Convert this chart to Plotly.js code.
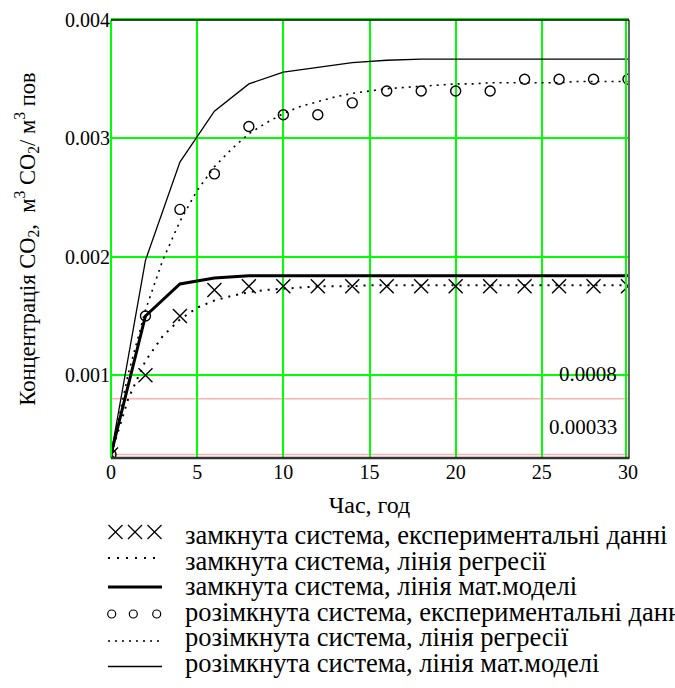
<!DOCTYPE html>
<html><head><meta charset="utf-8">
<script src="https://cdn.plot.ly/plotly-3.0.1.min.js"></script>
<style>html,body{margin:0;padding:0;background:#fff}#chart{width:675px;height:688px}</style>
</head><body><div id="chart"></div>
<script>
// ---- data ----
const hours = [0,2,4,6,8,10,12,14,16,18,20,22,24,26,28,30];
const closedExp   = [0.00033,0.0010,0.0015,0.00172,0.00175,0.00175,0.00175,0.00175,0.00175,0.00175,0.00175,0.00175,0.00175,0.00175,0.00175,0.00175];
const closedModel = [0.00033,0.0015,0.00177,0.00182,0.00184,0.00184,0.00184,0.00184,0.00184,0.00184,0.00184,0.00184,0.00184,0.00184,0.00184,0.00184];
const openExp     = [0.00033,0.0015,0.0024,0.0027,0.0031,0.0032,0.0032,0.0033,0.0034,0.0034,0.0034,0.0034,0.0035,0.0035,0.0035,0.0035];
const openModel   = [0.00033,0.00197,0.0028,0.00323,0.00346,0.00356,0.0036,0.00364,0.00366,0.00367,0.00367,0.00367,0.00367,0.00367,0.00367,0.00367];
const regHours = [0,1,2,3,4,5,6,7,8,9,10,11,12,13,14,15,16,17,18,19,20,21,22,23,24,25,26,27,28,29,30];
const closedReg = [0.00033,0.00080,0.00112,0.00133,0.00147,0.00157,0.00163,0.00167,0.00170,0.00172,0.00173,0.00174,0.00175,0.00175,0.00175,0.00176,0.00176,0.00176,0.00176,0.00176,0.00176,0.00176,0.00176,0.00176,0.00176,0.00176,0.00176,0.00176,0.00176,0.00176,0.00176];
const openReg = [0.00033,0.00101,0.00155,0.00197,0.00230,0.00256,0.00276,0.00291,0.00304,0.00313,0.00321,0.00327,0.00331,0.00335,0.00338,0.00340,0.00342,0.00343,0.00344,0.00345,0.00346,0.00346,0.00347,0.00347,0.00347,0.00347,0.00347,0.00348,0.00348,0.00348,0.00348];
const refLevels = [0.0008,0.00033];
const refLabels = ['0.0008','0.00033'];
const xTicks = [0,5,10,15,20,25,30];
const yTicks = [0.001,0.002,0.003,0.004];
const yTickText = ['0.001','0.002','0.003','0.004'];
const xTitle = 'Час, год';
const yTitle = 'Концентрація CO<sub>2</sub>,  м<sup>3</sup> CO<sub>2</sub>/ м<sup>3</sup> пов';
const legendLabels = [
  'замкнута система, експериментальні данні',
  'замкнута система, лінія регресії',
  'замкнута система, лінія мат.моделі',
  'розімкнута система, експериментальні данні',
  'розімкнута система, лінія регресії',
  'розімкнута система, лінія мат.моделі'
];

// ---- geometry / style ----
const FONT = 'Liberation Serif, Times New Roman, serif';
const L = 111, R = 628, T = 20, B = 458;
const xp = px => (px - L) / (R - L);
const yp = py => (B - py) / (B - T);
const GREEN = '#00ff00';

const traces = [
  {x: regHours, y: closedReg, mode: 'lines', line: {color: '#000', width: 2, dash: '2px,6px'}},
  {x: regHours, y: openReg, mode: 'lines', line: {color: '#000', width: 1.6, dash: '2px,5px'}},
  {x: hours, y: closedModel, mode: 'lines', line: {color: '#000', width: 3}},
  {x: hours, y: openModel, mode: 'lines', line: {color: '#000', width: 1.3}},
  {x: hours, y: closedExp, mode: 'markers', marker: {symbol: 'x-thin-open', size: 14, color: '#000', line: {color: '#000', width: 1.4}}},
  {x: hours, y: openExp, mode: 'markers', marker: {symbol: 'circle-open', size: 10, color: '#000', line: {color: '#000', width: 1.4}}}
];

const shapes = [];
refLevels.forEach(v => shapes.push({type: 'line', xref: 'paper', yref: 'y', x0: 0, x1: 1, y0: v, y1: v,
  line: {color: 'rgba(255,110,110,0.55)', width: 1.5}, layer: 'below'}));
shapes.push({type: 'line', xref: 'paper', yref: 'paper', x0: 0, x1: 0, y0: 0, y1: 1, line: {color: GREEN, width: 2}});
shapes.push({type: 'line', xref: 'paper', yref: 'paper', x0: xp(626), x1: xp(626), y0: 0, y1: 1, line: {color: GREEN, width: 2}});
shapes.push({type: 'line', xref: 'paper', yref: 'paper', x0: xp(629), x1: xp(629), y0: 0, y1: 1, line: {color: '#000', width: 1.2}});
shapes.push({type: 'line', xref: 'paper', yref: 'paper', x0: 0, x1: xp(629), y0: yp(19), y1: yp(19), line: {color: GREEN, width: 2}});
shapes.push({type: 'line', xref: 'paper', yref: 'paper', x0: 0, x1: xp(629), y0: 1, y1: 1, line: {color: '#000', width: 1.3}});
shapes.push({type: 'line', xref: 'paper', yref: 'paper', x0: 0, x1: xp(629.5), y0: 0, y1: 0, line: {color: '#333', width: 2.5}});

// legend samples (drawn by hand to mimic the original legend glyphs)
const rowY = [538, 563.5, 589, 614.5, 640, 665.5];
[115.5, 135, 154.5].forEach(cx => {
  const h = 7, cy = 532;
  shapes.push({type: 'line', xref: 'paper', yref: 'paper', x0: xp(cx - h), x1: xp(cx + h), y0: yp(cy - h), y1: yp(cy + h), line: {color: '#000', width: 1.3}});
  shapes.push({type: 'line', xref: 'paper', yref: 'paper', x0: xp(cx - h), x1: xp(cx + h), y0: yp(cy + h), y1: yp(cy - h), line: {color: '#000', width: 1.3}});
});
shapes.push({type: 'line', xref: 'paper', yref: 'paper', x0: xp(108), x1: xp(158), y0: yp(558), y1: yp(558), line: {color: '#000', width: 2, dash: '2px,7px'}});
shapes.push({type: 'line', xref: 'paper', yref: 'paper', x0: xp(108), x1: xp(162), y0: yp(587), y1: yp(587), line: {color: '#000', width: 3}});
[111.7, 133.3, 156.7].forEach(cx => {
  const r = 4, cy = 614;
  shapes.push({type: 'circle', xref: 'paper', yref: 'paper', x0: xp(cx - r), x1: xp(cx + r), y0: yp(cy + r), y1: yp(cy - r), line: {color: '#000', width: 1.2}});
});
shapes.push({type: 'line', xref: 'paper', yref: 'paper', x0: xp(108), x1: xp(162), y0: yp(641), y1: yp(641), line: {color: '#000', width: 1.6, dash: '2px,5px'}});
shapes.push({type: 'line', xref: 'paper', yref: 'paper', x0: xp(108), x1: xp(162), y0: yp(666.5), y1: yp(666.5), line: {color: '#000', width: 1.5}});

const annotations = [];
refLevels.forEach((v, i) => annotations.push({
  xref: 'paper', yref: 'y', x: xp(619), y: v, xanchor: 'right', yanchor: 'middle', yshift: i === 0 ? 25 : 27,
  text: refLabels[i], showarrow: false, font: {family: FONT, size: 21, color: '#000'}
}));
legendLabels.forEach((t, i) => annotations.push({
  xref: 'paper', yref: 'paper', x: xp(183), y: yp(rowY[i] - 3), xanchor: 'left', yanchor: 'middle',
  text: t, showarrow: false, font: {family: FONT, size: 26.5, color: '#000'}
}));

const layout = {
  width: 675, height: 688,
  margin: {l: L, r: 675 - R, t: T, b: 688 - B, pad: 0},
  paper_bgcolor: '#fff', plot_bgcolor: '#fff',
  showlegend: false,
  font: {family: FONT, color: '#000'},
  xaxis: {
    range: [0, 30], tickmode: 'array', tickvals: xTicks, ticks: '', showline: false, zeroline: false,
    showgrid: true, gridcolor: GREEN, gridwidth: 2,
    tickfont: {family: FONT, size: 20, color: '#000'},
    title: {text: xTitle, font: {family: FONT, size: 24, color: '#000'}, standoff: 14},
    automargin: false
  },
  yaxis: {
    range: [0.0003, 0.004], tickmode: 'array', tickvals: yTicks, ticktext: yTickText, ticks: '', showline: false, zeroline: false,
    showgrid: true, gridcolor: GREEN, gridwidth: 2,
    tickfont: {family: FONT, size: 20, color: '#000'},
    title: {text: yTitle, font: {family: FONT, size: 22.5, color: '#000'}, standoff: 23},
    automargin: false
  },
  shapes: shapes,
  annotations: annotations
};

Plotly.newPlot('chart', traces, layout, {staticPlot: true, displayModeBar: false});
</script>
</body></html>
